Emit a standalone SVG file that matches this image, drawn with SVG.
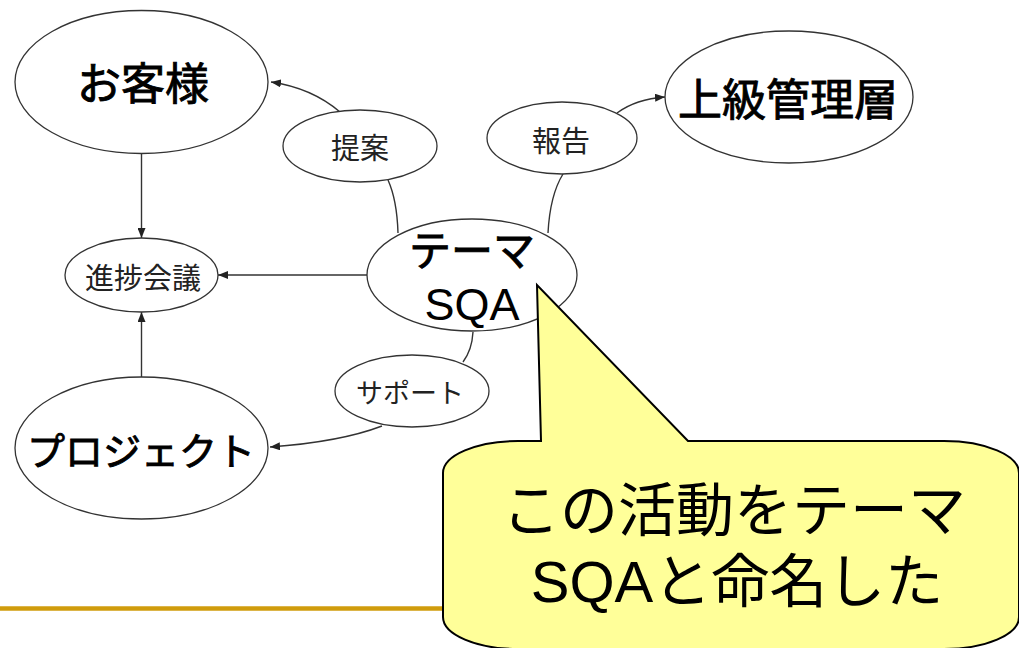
<svg xmlns="http://www.w3.org/2000/svg" width="1019" height="648" viewBox="0 0 1019 648">
<defs>
<marker id="arr" markerUnits="userSpaceOnUse" markerWidth="10" markerHeight="8" viewBox="0 0 10 8" refX="10" refY="4" orient="auto">
<path d="M0,0 L10,4 L0,8 Z" fill="#222"/>
</marker>
<style>
.node ellipse{fill:#fff;stroke:#333;stroke-width:1.3}
.t{font-family:"Liberation Sans","Noto Sans CJK JP",sans-serif;fill:#000;text-anchor:middle}
.big{font-size:44px;stroke:#000;stroke-width:0.9}
.small{font-size:29px;fill:#222}
.conn path{fill:none;stroke:#333;stroke-width:1.4}
.call{fill:#FFFF99;stroke:#000;stroke-width:2;stroke-linejoin:miter}
</style>
</defs>
<rect width="1019" height="648" fill="#fff"/>
<line x1="0" y1="608.5" x2="450" y2="608.5" stroke="#D09C0C" stroke-width="4.5"/>
<g class="conn" id="connectors">
<path d="M141.5,153 L141.5,238" marker-end="url(#arr)"/>
<path d="M141.5,377 L141.5,312" marker-end="url(#arr)"/>
<path d="M367,275 L218,275" marker-end="url(#arr)"/>
<path d="M340,112 Q312,88 271,82" marker-end="url(#arr)"/>
<path d="M398,233 Q397,200 388,180"/>
<path d="M548,233 Q550,195 563,174"/>
<path d="M617,113 Q636,99 665,97" marker-end="url(#arr)"/>
<path d="M473,332 Q472,350 463,362"/>
<path d="M382,426 Q340,442 270,447" marker-end="url(#arr)"/>
</g>
<g class="node" id="n-okyakusama"><ellipse cx="141.5" cy="82" rx="126.5" ry="71.5"/><text class="t big" x="143" y="100">お客様</text></g>
<g class="node" id="n-teian"><ellipse cx="360" cy="146" rx="77" ry="36"/><text class="t small" x="360" y="159">提案</text></g>
<g class="node" id="n-shinchoku"><ellipse cx="141.5" cy="275" rx="76.5" ry="37"/><text class="t small" x="143" y="289">進捗会議</text></g>
<g class="node" id="n-sqa"><ellipse cx="472" cy="275" rx="105" ry="56"/><text class="t" style="font-size:42px;stroke:#000;stroke-width:0.9" x="472" y="266">テーマ</text><text class="t" style="font-size:45px" x="472" y="320">SQA</text></g>
<g class="node" id="n-houkoku"><ellipse cx="562" cy="138" rx="75" ry="36"/><text class="t small" x="561" y="152">報告</text></g>
<g class="node" id="n-joukyuu"><ellipse cx="789" cy="97" rx="124" ry="66"/><text class="t big" x="788" y="116">上級管理層</text></g>
<g class="node" id="n-support"><ellipse cx="412" cy="391" rx="77" ry="36"/><text class="t" style="font-size:27px;fill:#222" x="410" y="403">サポート</text></g>
<g class="node" id="n-project"><ellipse cx="141.5" cy="448" rx="126.5" ry="71"/><text class="t" style="font-size:38px;stroke:#000;stroke-width:0.9" x="141" y="465">プロジェクト</text></g>
<g id="callout">
<path class="call" d="M541,441 L537,285 L688,441 L944,441 A75,32 0 0 1 1019,473 L1019,617 A75,32 0 0 1 944,649 L518,649 A75,32 0 0 1 443,617 L443,473 A75,32 0 0 1 518,441 Z"/>
<text class="t" style="font-size:58px" x="734" y="531">この活動をテーマ</text>
<text class="t" style="font-size:58px" x="737" y="602">SQAと命名した</text>
</g>
</svg>
